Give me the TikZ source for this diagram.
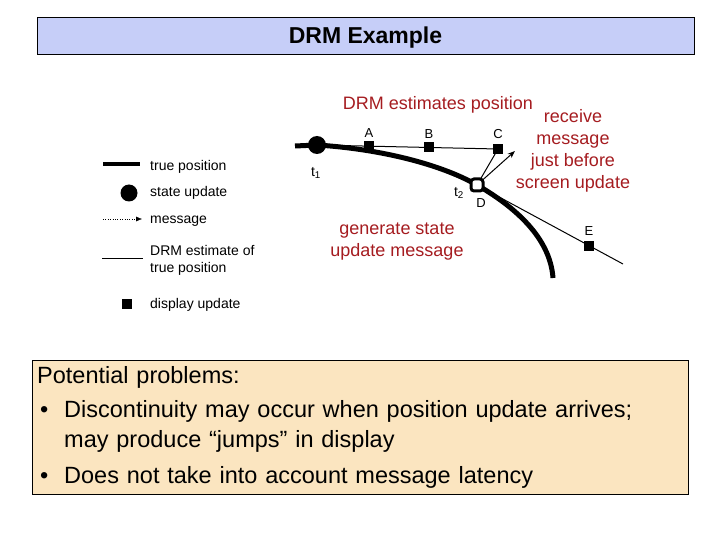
\documentclass[tikz,border=0pt]{standalone}
\usepackage{fontspec}
\setmainfont{Liberation Sans}
\usetikzlibrary{arrows.meta, positioning}

\definecolor{drmred}{RGB}{165,28,32}
\definecolor{titleblue}{RGB}{198,206,248}
\definecolor{notebeige}{RGB}{251,229,192}

\begin{document}
\begin{tikzpicture}[
    x=1pt, y=-1pt,
    disp/.style={draw, fill=black, minimum size=9pt, inner sep=0pt},
    lbl/.style={inner sep=0pt, font=\fontsize{13}{15}\selectfont},
    legtext/.style={anchor=west, inner sep=0pt, align=left, font=\fontsize{14}{17}\selectfont},
    note/.style={text=drmred, align=center, inner sep=0pt, font=\fontsize{18}{22}\selectfont},
    truepath/.style={line width=5pt},
    estline/.style={line width=1pt},
    >=Stealth
  ]
  \useasboundingbox (0,0) rectangle (720,540);

  % Title
  \node[draw, fill=titleblue, minimum width=657pt, minimum height=37pt, text depth=0pt,
        font=\bfseries\fontsize{23}{26}\selectfont] (title) at (365.5,35.5) {DRM Example};

  % Legend
  \coordinate (tpA) at (103,164); \coordinate (tpB) at (140,164);
  \draw[line width=4pt] (tpA) -- (tpB);
  \node[legtext] (tptext) at (150,167) {true position};

  \node[circle, fill=black, minimum size=17pt, inner sep=0pt] (sudot) at (129,193) {};
  \node[legtext] (sutext) at (150,193) {state update};

  \coordinate (msgA) at (103,219); \coordinate (msgB) at (142,219);
  \draw[dotted, -{Latex[length=6pt,width=5pt]}] (msgA) -- (msgB);
  \node[legtext] (msgtext) at (150,221) {message};

  \coordinate (estA) at (102,258); \coordinate (estB) at (143,258);
  \draw[estline] (estA) -- (estB);
  \node[legtext] (esttext) at (150,260.5) {DRM estimate of\\true position};

  \node[disp] (dispsq) at (127,304) {};
  \node[legtext] (disptext) at (150,305) {display update};

  % True position path
  \coordinate (start) at (295,146);
  \coordinate (pathend) at (553,278);
  \node[circle, fill=black, minimum size=18pt, inner sep=0pt] (t1dot) at (317,145) {};
  \coordinate (dpos) at (477,185);
  \draw[truepath] (start) -- (t1dot.center)
    .. controls (380,149) and (440,164) .. (dpos)
    .. controls (510,204) and (550,235) .. (pathend);

  % DRM estimates
  \coordinate (cpos) at (498,149);
  \draw[estline] (t1dot.center) -- (cpos);
  \node[disp] (A) at (369,146) {};
  \node[disp] (B) at (429,147) {};
  \node[disp] (C) at (cpos) {};

  \coordinate (eend) at (623,264);
  \coordinate (msgtip) at (515,151);
  \draw[estline] (dpos) -- (eend);
  \draw[estline] (dpos) -- (C);
  \draw[estline, ->] (dpos) -- (msgtip);
  \node[disp] (E) at (589,246) {};

  % State update at t2
  \node[draw, fill=white, line width=3pt, rounded corners=3pt, minimum size=12pt,
        inner sep=0pt] (D) at (dpos) {};

  % Labels
  \node[lbl, above=4pt of A] (Alabel) {A};
  \node[lbl, above=4pt of B] (Blabel) {B};
  \node[lbl, above=5pt of C] (Clabel) {C};
  \node[lbl, above=6pt of E] (Elabel) {E};
  \node[lbl] (Dlabel) at (481,203) {D};
  \node[lbl, font=\fontsize{14}{16}\selectfont] (t1label) at (316,173) {t\textsubscript{1}};
  \node[lbl, font=\fontsize{14}{16}\selectfont] (t2label) at (459,193) {t\textsubscript{2}};

  % Notes
  \node[note] (drmnote) at (438,105) {DRM estimates position};
  \node[note] (recvnote) at (573,151) {receive\\message\\just before\\screen update};
  \node[note] (gennote) at (397,242) {generate state\\update message};

  % Potential problems
  \node[draw, fill=notebeige, anchor=north west, minimum width=656pt, minimum height=134pt,
        text width=646pt, inner sep=5pt, align=left,
        font=\fontsize{23.5}{30}\selectfont] (problems) at (32,360)
    {Potential problems:\\[4pt]
     \makebox[27pt][l]{\hspace{3pt}\textbullet}Discontinuity may occur when position update arrives;\\
     \hspace*{27pt}may produce “jumps” in display\\[6pt]
     \makebox[27pt][l]{\hspace{3pt}\textbullet}Does not take into account message latency};
\end{tikzpicture}
\end{document}
